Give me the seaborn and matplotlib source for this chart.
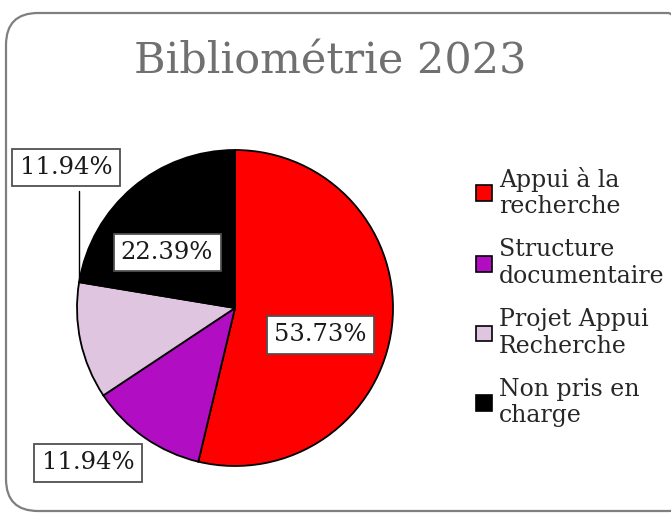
import matplotlib
matplotlib.use("Agg")
import matplotlib.pyplot as plt
from matplotlib.patches import FancyBboxPatch
from matplotlib.transforms import IdentityTransform
import seaborn as sns

categories = ["Appui à la\nrecherche", "Structure\ndocumentaire",
              "Projet Appui\nRecherche", "Non pris en\ncharge"]
shares = [53.73, 11.94, 11.94, 22.39]
colors = ["#ff0000", "#b10dc3", "#dfc5df", "#000000"]

sns.set_theme(style="white")
plt.rcParams['font.family'] = ['DejaVu Serif']

fig = plt.figure(figsize=(6.71, 5.13), dpi=100)

# rounded frame around the chart (pixel coordinates, origin bottom-left)
frame = FancyBboxPatch((6, 2), 694, 498,
                       boxstyle="round,pad=0,rounding_size=32",
                       transform=IdentityTransform(), facecolor="none",
                       edgecolor="#7f7f7f", linewidth=1.6, zorder=-1)
fig.patches.append(frame)

fig.text(330 / 671, 1 - 62 / 513, "Bibliométrie 2023", ha="center", va="center",
         fontsize=31, color="#707070")

r_px = 158
cx, cy = 235, 308
ax = fig.add_axes([(cx - r_px) / 671, (513 - cy - r_px) / 513,
                   2 * r_px / 671, 2 * r_px / 513])
wedges, _ = ax.pie(shares, colors=colors, startangle=90, counterclock=False,
                   radius=1, wedgeprops=dict(edgecolor="black", linewidth=1.3))
ax.set_xlim(-1, 1)
ax.set_ylim(-1, 1)
ax.set_aspect("equal")
ax.axis("off")

box = dict(boxstyle="square,pad=0.3", facecolor="white", edgecolor="#505050", linewidth=1.3)
label_pos = [(0.54, -0.17), (-0.93, -0.98), (-1.07, 0.89), (-0.43, 0.35)]
for val, (lx, ly) in zip(shares, label_pos):
    ax.text(lx, ly, f"{val:.2f}%", ha="center", va="center", fontsize=17.5,
            color="#1a1a1a", bbox=box, clip_on=False, zorder=5)

# leader line for the small pink slice
ax.plot([-0.985, -0.985], [0.74, 0.17], color="black", linewidth=1, clip_on=False, zorder=4)

handles = [plt.Rectangle((0, 0), 1, 1, facecolor=c, edgecolor="black", linewidth=1.2)
           for c in colors]
fig.legend(handles, categories, loc="center left", bbox_to_anchor=(467 / 671, 1 - 297 / 513),
           frameon=False, fontsize=17, handlelength=0.65, handleheight=0.65,
           handletextpad=0.3, labelspacing=0.85, borderaxespad=0)

fig.savefig("out.png", dpi=100)
